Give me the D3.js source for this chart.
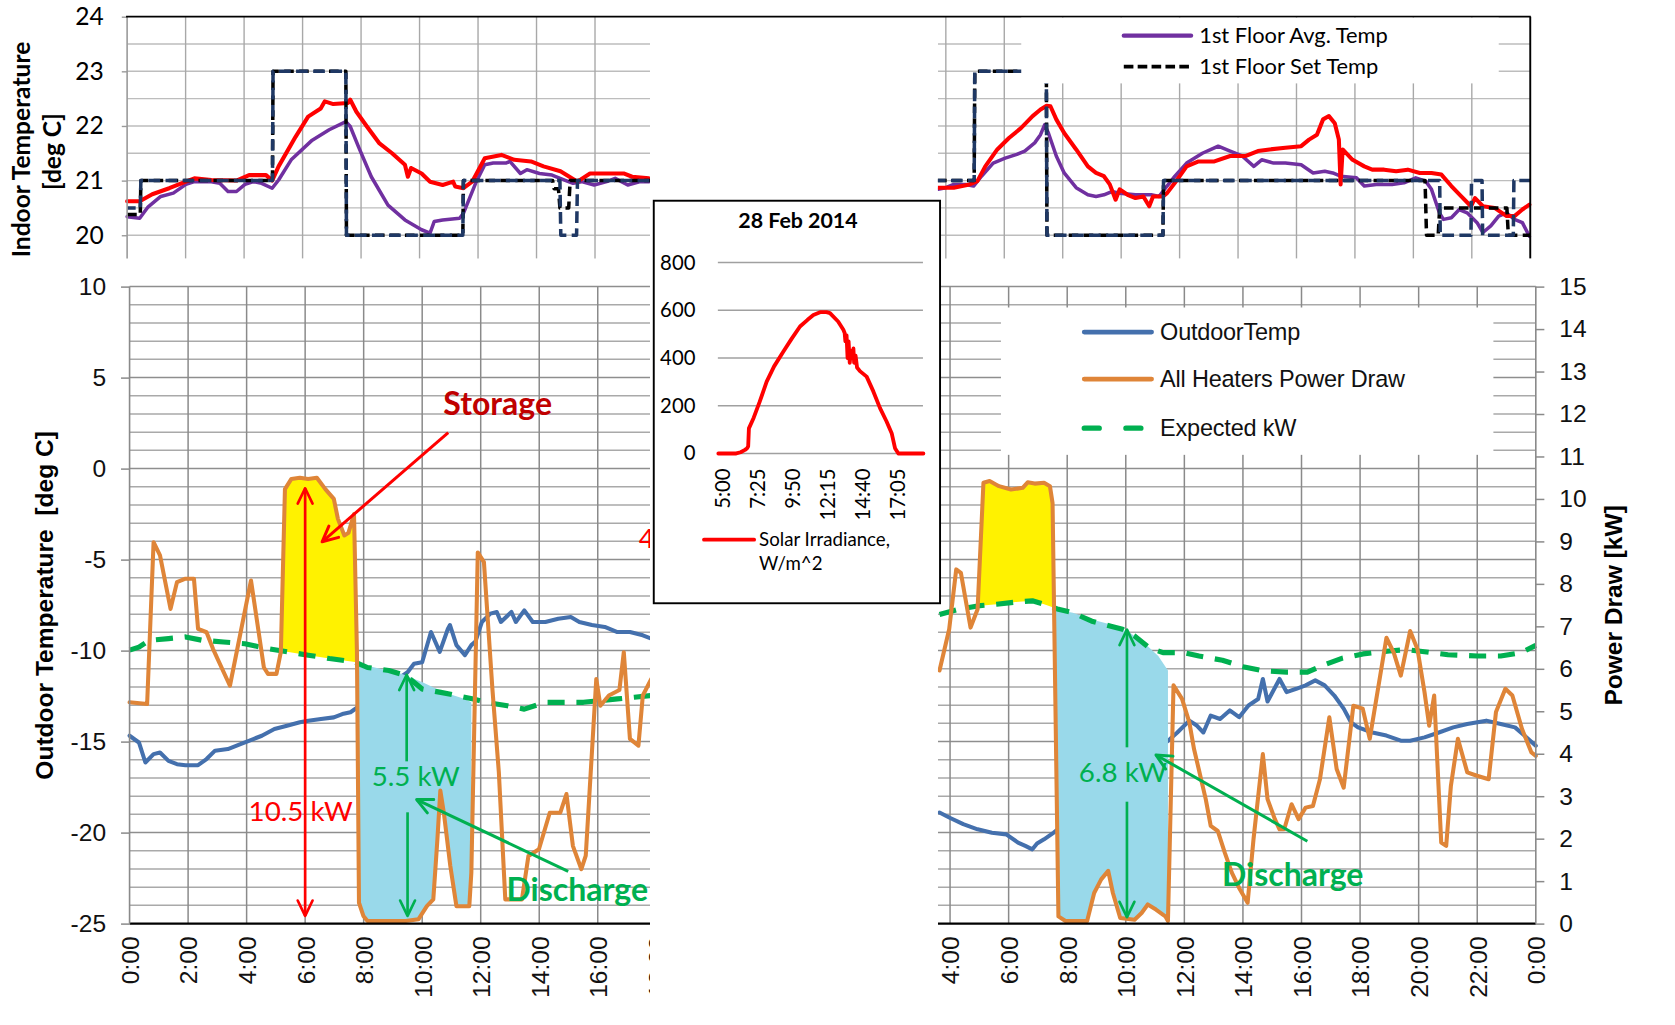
<!DOCTYPE html>
<html><head><meta charset="utf-8">
<script src="https://cdn.jsdelivr.net/npm/d3@7"></script>
<style>html,body{margin:0;padding:0;background:#fff;overflow:hidden}</style>
</head><body>
<svg id="c"></svg>
<script>
// ---------------- DATA (hours, value) ----------------
// Top panel, left day: indoor temperatures (deg C)
const purpleLeft = [[0,20.34],[0.43,20.31],[0.72,20.52],[1.15,20.71],[1.58,20.77],[2.01,20.93],[2.3,20.98],[2.88,20.98],[3.17,20.95],[3.45,20.8],[3.74,20.8],[4.03,20.93],[4.32,20.98],[4.6,20.95],[4.96,20.86],[5.18,21.01],[5.61,21.38],[6.33,21.74],[6.91,21.93],[7.48,22.08],[7.63,21.99],[7.91,21.62],[8.35,21.07],[8.92,20.55],[9.5,20.28],[10.07,20.1],[10.36,20.04],[10.5,20.25],[10.79,20.28],[11.37,20.31],[11.5,20.4],[11.94,20.98],[12.23,21.29],[12.52,21.32],[12.95,21.32],[13.09,21.35],[13.45,21.13],[13.67,21.2],[14.1,21.13],[14.53,21.1],[14.96,21.01],[15.25,20.95],[15.54,20.98],[15.97,20.92],[16.4,20.98],[16.69,21.04],[17.12,20.92],[17.55,20.98],[17.84,20.98],[18.2,21.0]];
const redLeft = [[0,20.62],[0.43,20.62],[0.86,20.75],[1.44,20.86],[2.01,20.98],[2.3,21.04],[2.88,21.01],[3.74,21.0],[4.17,21.1],[4.75,21.1],[4.96,21.0],[5.18,21.26],[5.76,21.8],[6.19,22.17],[6.62,22.32],[6.76,22.45],[7.05,22.4],[7.55,22.42],[7.63,22.48],[7.84,22.26],[8.2,21.99],[8.63,21.68],[9.06,21.5],[9.5,21.29],[9.6,21.07],[9.71,21.23],[10.07,21.13],[10.36,20.98],[10.79,20.92],[11.15,20.98],[11.22,20.89],[11.5,20.86],[11.8,20.98],[12.23,21.41],[12.8,21.47],[13.24,21.38],[13.81,21.35],[14.24,21.26],[14.82,21.17],[15.4,20.98],[15.83,21.13],[16.4,21.13],[16.98,21.13],[17.27,21.07],[17.84,21.04],[18.2,21.0]];
const setNavyLeft = [[0,20.5],[0.45,20.5],[0.47,21],[4.97,21],[4.99,23],[7.48,23],[7.5,20],[11.48,20],[11.5,21],[14.8,21],[14.83,20],[15.37,20],[15.4,21],[18.2,21]];
const setBlackLeft = [[0,20.38],[0.45,20.38],[0.47,21],[4.97,21],[4.99,23],[7.48,23],[7.5,20],[11.48,20],[11.5,21],[14.55,21],[14.6,20.85],[14.75,20.85],[14.8,20.5],[15.1,20.5],[15.15,21],[18.2,21]];
// Top panel, right day
const purpleRight = [[3.73,20.84],[4,20.87],[4.27,20.93],[4.68,20.93],[4.95,20.9],[5.22,21.08],[5.62,21.32],[6.03,21.41],[6.43,21.48],[6.7,21.54],[7.04,21.69],[7.24,21.84],[7.38,22.02],[7.51,21.87],[7.78,21.45],[8.05,21.14],[8.46,20.87],[8.86,20.74],[9.14,20.71],[9.41,20.74],[9.68,20.8],[9.95,20.77],[10.49,20.74],[11.03,20.74],[11.3,20.71],[11.57,20.9],[11.84,21.08],[12.24,21.32],[12.78,21.5],[13.19,21.6],[13.32,21.63],[13.73,21.54],[14.14,21.45],[14.54,21.26],[14.81,21.38],[15.22,21.32],[15.62,21.32],[16.16,21.29],[16.57,21.14],[16.97,21.17],[17.24,21.14],[17.51,21.08],[18.05,21.05],[18.32,20.9],[18.73,20.93],[19.27,20.93],[19.68,20.96],[20.08,21.05],[20.42,20.99],[20.62,20.84],[20.89,20.41],[21.03,20.29],[21.3,20.32],[21.57,20.47],[21.84,20.41],[22.18,20.23],[22.38,20.05],[22.65,20.17],[22.92,20.35],[23.19,20.41],[23.46,20.29],[23.73,20.23],[23.97,19.98]];
const redRight = [[3.73,20.87],[4.27,20.87],[4.81,20.93],[5.08,20.99],[5.35,21.26],[5.76,21.57],[6.16,21.78],[6.57,21.96],[6.97,22.18],[7.24,22.3],[7.45,22.37],[7.58,22.36],[7.78,22.12],[8.05,21.87],[8.46,21.57],[8.86,21.26],[9.14,21.14],[9.41,21.08],[9.61,20.93],[9.81,20.65],[9.95,20.84],[10.22,20.74],[10.49,20.68],[10.76,20.71],[10.96,20.53],[11.09,20.71],[11.43,20.71],[11.57,20.77],[11.84,20.96],[12.24,21.26],[12.65,21.35],[13.19,21.35],[13.73,21.45],[14.27,21.45],[14.68,21.54],[15.08,21.57],[15.62,21.6],[16.16,21.63],[16.43,21.75],[16.7,21.84],[16.91,22.12],[17.11,22.18],[17.31,22.05],[17.45,21.75],[17.51,20.93],[17.58,21.57],[17.92,21.38],[18.32,21.26],[18.59,21.2],[19.0,21.2],[19.41,21.17],[19.81,21.2],[20.22,21.14],[20.62,21.14],[20.96,21.11],[21.3,20.9],[21.64,20.71],[21.97,20.53],[22.11,20.68],[22.38,20.53],[22.78,20.5],[23.19,20.35],[23.46,20.35],[23.73,20.47],[23.97,20.56]];
const setNavyRight = [[3.7,21],[4.97,21],[4.99,23],[7.44,23],[7.46,20],[11.43,20],[11.45,21],[20.9,21],[20.92,20],[21.97,20],[21.99,21],[22.35,21],[22.37,20],[23.42,20],[23.44,21],[24,21]];
const setBlackRight = [[3.7,21],[4.97,21],[4.99,23],[7.44,23],[7.46,20],[11.43,20],[11.45,21],[20.4,21],[20.45,20],[20.85,20],[20.9,20.5],[23.2,20.5],[23.25,20],[24,20]];

// Bottom panel, left day
const powerLeft = [[0,5.21],[0.6,5.17],[0.82,8.98],[1.04,8.67],[1.4,7.41],[1.62,8.04],[1.91,8.12],[2.2,8.12],[2.34,6.94],[2.63,6.86],[2.85,6.47],[3.43,5.6],[4.15,8.08],[4.59,6.03],[4.73,5.88],[5.02,5.88],[5.17,6.4],[5.31,10.23],[5.53,10.47],[5.82,10.5],[6.1,10.47],[6.4,10.5],[6.69,10.23],[6.98,10.0],[7.12,9.53],[7.34,9.14],[7.48,9.2],[7.67,9.64],[7.77,6.4],[7.84,0.49],[7.99,0.18],[8.13,0.06],[8.86,0.06],[9.44,0.06],[9.87,0.1],[10.16,0.41],[10.38,0.57],[10.52,1.98],[10.62,3.13],[10.74,2.61],[10.96,1.36],[11.17,0.41],[11.61,0.41],[11.68,1.2],[11.9,8.74],[12.11,8.51],[12.4,5.52],[12.62,3.56],[12.84,0.57],[13.41,0.57],[13.63,1.59],[13.99,1.75],[14.36,2.61],[14.72,2.61],[14.93,3.05],[15.15,1.83],[15.44,1.28],[15.59,1.6],[15.95,5.76],[16.09,5.13],[16.38,5.37],[16.74,5.5],[16.89,6.39],[17.1,4.35],[17.39,4.19],[17.54,5.37],[17.83,5.76],[18.2,6.2]];
const outdoorLeft = [[0,-14.68],[0.32,-15.05],[0.54,-16.15],[0.82,-15.69],[1.04,-15.6],[1.33,-16.06],[1.62,-16.24],[1.91,-16.3],[2.34,-16.3],[2.63,-15.96],[2.92,-15.5],[3.36,-15.41],[3.79,-15.14],[4.23,-14.86],[4.52,-14.68],[4.95,-14.31],[5.38,-14.13],[5.82,-13.94],[6.11,-13.85],[6.54,-13.76],[6.98,-13.67],[7.27,-13.49],[7.55,-13.39],[9.5,-11.19],[9.72,-10.73],[10.0,-10.64],[10.3,-8.98],[10.6,-10.07],[10.88,-8.8],[10.95,-8.6],[11.17,-9.7],[11.46,-10.25],[11.68,-9.7],[11.82,-9.5],[12.04,-8.43],[12.33,-7.97],[12.55,-7.88],[12.69,-8.43],[13.05,-7.88],[13.2,-8.43],[13.49,-7.79],[13.78,-8.43],[14.21,-8.43],[14.65,-8.25],[15.08,-8.16],[15.37,-8.43],[15.8,-8.6],[16.24,-8.7],[16.67,-8.98],[17.1,-8.98],[17.54,-9.16],[17.83,-9.34],[18.2,-9.45]];
const expectedLeft = [[0,6.44],[0.32,6.51],[0.68,6.67],[1.33,6.71],[1.91,6.75],[2.49,6.67],[3.21,6.63],[3.94,6.59],[4.66,6.48],[5.38,6.4],[6.11,6.32],[6.83,6.24],[7.7,6.16],[8.13,6.03],[8.86,5.96],[9.44,5.84],[10.01,5.52],[10.59,5.45],[11.17,5.37],[11.75,5.29],[12.19,5.21],[12.91,5.13],[13.49,5.05],[14.21,5.21],[14.79,5.21],[15.51,5.21],[16.09,5.25],[16.67,5.29],[17.25,5.33],[17.83,5.37],[18.2,5.4]];
const dischargeTopLeft = [[7.8,6.12],[8.57,6.0],[9.29,5.88],[10.01,5.68],[10.74,5.45],[11.46,5.29],[11.68,5.21]];
// Bottom panel, right day
const powerRight = [[3.64,5.96],[3.97,6.93],[4.21,8.34],[4.37,8.26],[4.7,6.97],[4.94,7.4],[5.14,10.38],[5.35,10.42],[5.67,10.3],[6.08,10.22],[6.48,10.26],[6.65,10.39],[6.89,10.36],[7.21,10.38],[7.41,10.3],[7.5,9.9],[7.7,0.17],[7.94,0.06],[8.68,0.06],[8.92,0.72],[9.16,1.04],[9.4,1.24],[9.56,0.72],[9.81,0.13],[10.3,0.09],[10.54,0.25],[10.75,0.45],[11.03,0.33],[11.35,0.17],[11.44,0.06],[11.63,5.61],[11.92,5.29],[12.17,4.74],[12.33,4.11],[12.49,3.64],[12.73,2.93],[12.9,2.3],[13.14,2.18],[13.38,1.67],[13.62,1.2],[13.87,0.84],[14.16,0.49],[14.36,1.98],[14.68,3.99],[14.84,2.93],[15.09,2.46],[15.25,2.22],[15.41,2.22],[15.66,2.81],[15.9,2.46],[16.14,2.73],[16.39,2.77],[16.63,3.4],[16.95,4.86],[17.2,3.64],[17.44,3.2],[17.77,5.13],[18.09,5.06],[18.33,4.35],[18.9,6.73],[19.15,6.38],[19.39,5.84],[19.71,6.89],[19.96,6.46],[20.2,5.45],[20.36,4.66],[20.53,5.37],[20.77,1.91],[20.94,1.83],[21.1,3.24],[21.34,4.35],[21.66,3.56],[21.99,3.48],[22.39,3.4],[22.64,4.98],[22.96,5.53],[23.2,5.37],[23.53,4.58],[23.85,4.03],[24,3.95]];
const outdoorRight = [[3.64,-18.9],[3.97,-19.17],[4.45,-19.54],[4.94,-19.82],[5.43,-20.01],[5.92,-20.1],[6.32,-20.55],[6.57,-20.73],[6.81,-20.92],[6.97,-20.6],[7.21,-20.37],[7.54,-20.0],[11.52,-14.85],[11.76,-14.5],[12.17,-13.85],[12.41,-14.1],[12.65,-14.5],[12.9,-13.57],[13.22,-13.76],[13.55,-13.29],[13.87,-13.66],[14.19,-13.02],[14.52,-12.66],[14.68,-11.56],[14.84,-12.8],[15.25,-11.56],[15.49,-12.28],[15.82,-12.1],[16.14,-11.91],[16.47,-11.64],[16.79,-11.91],[17.12,-12.47],[17.44,-13.19],[17.69,-13.94],[17.93,-14.22],[18.42,-14.5],[18.9,-14.67],[19.39,-14.95],[19.71,-14.95],[20.2,-14.77],[20.69,-14.5],[21.18,-14.22],[21.66,-14.03],[22.31,-13.85],[22.8,-14.03],[23.29,-14.22],[23.61,-14.67],[24,-15.23]];
const expectedRight = [[3.64,7.28],[4.29,7.4],[4.94,7.48],[5.59,7.52],[6.24,7.57],[6.81,7.6],[7.21,7.52],[7.7,7.4],[8.19,7.32],[8.84,7.12],[9.49,7.0],[9.89,6.93],[10.3,6.77],[10.79,6.5],[11.27,6.38],[12.0,6.38],[12.5,6.3],[13.3,6.2],[14.0,6.05],[14.7,5.95],[15.5,5.92],[16.2,5.92],[16.8,6.1],[17.4,6.25],[18.1,6.35],[19.0,6.42],[19.6,6.45],[20.2,6.4],[21.0,6.33],[22.0,6.3],[22.8,6.3],[23.5,6.38],[24,6.55]];
const dischargeTopRight = [[7.57,7.4],[8.19,7.32],[8.84,7.16],[9.49,7.04],[10.14,6.85],[10.62,6.61],[11.11,6.3],[11.44,5.96]];

// Inset: solar irradiance 28 Feb 2014 (hours, W/m^2)
const solar = [[4.77,0],[6.0,0],[6.3,5],[6.6,15],[6.75,22],[6.82,30],[6.87,105],[7.2,150],[7.6,215],[8.09,301],[8.6,365],[9.24,427],[9.8,480],[10.38,532],[10.9,560],[11.3,580],[11.76,592],[12.2,592],[12.44,588],[13.0,553],[13.36,518],[13.45,505],[13.5,470],[13.58,495],[13.65,400],[13.72,470],[13.8,380],[13.88,430],[13.95,400],[14.05,440],[14.1,380],[14.2,410],[14.3,360],[14.5,345],[14.96,322],[15.42,260],[15.88,190],[16.33,134],[16.68,85],[16.91,22],[17.14,0],[18.86,0]];

// Tick values / labels
const topTempTicks = [20,21,22,23,24];
const outdoorTicks = [-25,-20,-15,-10,-5,0,5,10];
const powerTicks = d3.range(0,16);
const hourTicksLeft = [0,2,4,6,8,10,12,14,16,18];
const hourTicksRight = [4,6,8,10,12,14,16,18,20,22,24];
const solarTicks = [0,200,400,600,800];
const solarHourTicks = [5, 7+25/60, 9+50/60, 12.25, 14+40/60, 17+5/60];
const solarHourLabels = ["5:00","7:25","9:50","12:15","14:40","17:05"];

// ---------------- DRAWING ----------------
const LATO = "Lato, 'Open Sans', sans-serif";
const ARIAL = "'Liberation Sans', Arial, sans-serif";
const C = {orange:"#DF8538", blue:"#4470AD", green:"#00B050", yellow:"#FFF200", lblue:"#99D9EA",
           purple:"#7030A0", red:"#FF0000", navy:"#1F3864", dred:"#C00000"};

const svg = d3.select('#c').attr('width',1675).attr('height',1025)
  .attr('viewBox','0 0 1568 960').attr('preserveAspectRatio','none');
svg.append('rect').attr('width',1568).attr('height',960).attr('fill','#fff');
const defs = svg.append('defs');
defs.append('clipPath').attr('id','clipL').append('rect').attr('x',0).attr('y',0).attr('width',608.5).attr('height',960);
defs.append('clipPath').attr('id','clipR').append('rect').attr('x',878).attr('y',0).attr('width',700).attr('height',960);

// Scales
const xTopL = d3.scaleLinear().domain([0,24]).range([119,776]);
const xTopR = d3.scaleLinear().domain([0,24]).range([776,1432.5]);
const yTop = d3.scaleLinear().domain([20,24]).range([220.3,15.6]);
const TOP_BOTTOM = 242;
const xBotL = d3.scaleLinear().domain([0,24]).range([121.3,778.7]);
const xBotR = d3.scaleLinear().domain([0,24]).range([779.7,1437.7]);
const yDeg = d3.scaleLinear().domain([-25,10]).range([865,268.4]);
const yKW = d3.scaleLinear().domain([0,15]).range([865,268.4]);
const xIn = d3.scaleLinear().domain([5,17+5/60]).range([675.6,840.2]);
const yIn = d3.scaleLinear().domain([0,800]).range([424.7,245.9]);

function interp(arr,t){
  for(let i=0;i<arr.length-1;i++){
    if(t>=arr[i][0] && t<=arr[i+1][0]){
      const f=(t-arr[i][0])/(arr[i+1][0]-arr[i][0]);
      return arr[i][1]+f*(arr[i+1][1]-arr[i][1]);
    }
  }
  return arr[arr.length-1][1];
}
function band(topArr, botArr, t0, t1){
  const top=[[t0,interp(topArr,t0)], ...topArr.filter(d=>d[0]>t0&&d[0]<t1), [t1,interp(topArr,t1)]];
  const bot=[[t0,interp(botArr,t0)], ...botArr.filter(d=>d[0]>t0&&d[0]<t1), [t1,interp(botArr,t1)]].reverse();
  return top.concat(bot);
}
function path(g, data, xs, ys, stroke, width, dash, extra){
  const p = g.append('path').attr('d', d3.line().x(d=>xs(d[0])).y(d=>ys(d[1]))(data))
    .attr('fill','none').attr('stroke',stroke).attr('stroke-width',width)
    .attr('stroke-linejoin','round').attr('stroke-linecap', dash? 'butt':'round');
  if(dash) p.attr('stroke-dasharray',dash);
  if(extra) extra(p);
  return p;
}

// ===== TOP PANEL =====
function topHalf(clip, xs, x0, x1, vHours, purple, red, setB, setN){
  const g = svg.append('g').attr('clip-path',`url(#${clip})`);
  d3.range(20,24,0.5).forEach(v=>{
    g.append('line').attr('x1',x0).attr('x2',x1).attr('y1',yTop(v)).attr('y2',yTop(v))
      .attr('stroke','#bdbdbd').attr('stroke-width',1.3);
  });
  vHours.forEach(h=>{
    g.append('line').attr('x1',xs(h)).attr('x2',xs(h)).attr('y1',yTop(24)).attr('y2',TOP_BOTTOM)
      .attr('stroke','#a8a8a8').attr('stroke-width',1.3);
  });
  path(g, purple, xs, yTop, C.purple, 3.3);
  path(g, red, xs, yTop, C.red, 3.8);
  path(g, setB, xs, yTop, '#000', 3.3, '9 5');
  path(g, setN, xs, yTop, C.navy, 3.3, '11 5', p=>p.attr('stroke-dashoffset',3));
  return g;
}
topHalf('clipL', xTopL, 119, 608.5, [2,4,6,8,10,12,14,16,18], purpleLeft, redLeft, setBlackLeft, setNavyLeft);
topHalf('clipR', xTopR, 878, 1432.5, [4,6,8,10,12,14,16,18,20,22], purpleRight, redRight, setBlackRight, setNavyRight);
// left axis of top panel
svg.append('line').attr('x1',119).attr('x2',119).attr('y1',15.6).attr('y2',TOP_BOTTOM).attr('stroke','#9a9a9a').attr('stroke-width',1.5);
const topAx = svg.append('g').attr('transform','translate(119,0)')
  .call(d3.axisLeft(yTop).tickValues(topTempTicks).tickSize(5).tickPadding(17).tickFormat(d=>String(d)));
topAx.select('.domain').remove();
topAx.selectAll('line').attr('stroke','#9a9a9a').attr('stroke-width',1.3);
topAx.selectAll('text').attr('font-family',LATO).attr('font-size',23).attr('fill','#000');
// top & right border
svg.append('line').attr('x1',118).attr('x2',1433).attr('y1',15.6).attr('y2',15.6).attr('stroke','#000').attr('stroke-width',1.8);
svg.append('line').attr('x1',1432.5).attr('x2',1432.5).attr('y1',15.6).attr('y2',TOP_BOTTOM).attr('stroke','#000').attr('stroke-width',1.8);
// top legend
svg.append('rect').attr('x',956).attr('y',16.6).attr('width',447).attr('height',61.5).attr('fill','#fff');
svg.append('line').attr('x1',1052).attr('x2',1115).attr('y1',33.4).attr('y2',33.4).attr('stroke',C.purple).attr('stroke-width',4).attr('stroke-linecap','round');
svg.append('line').attr('x1',1052).attr('x2',1115).attr('y1',62.4).attr('y2',62.4).attr('stroke','#000').attr('stroke-width',3.5).attr('stroke-dasharray','9 4');
svg.append('text').attr('x',1122.6).attr('y',33.4).attr('dy','0.35em').attr('font-family',LATO).attr('font-size',20.5).text('1st Floor Avg. Temp');
svg.append('text').attr('x',1122.6).attr('y',62.4).attr('dy','0.35em').attr('font-family',LATO).attr('font-size',20.5).text('1st Floor Set Temp');
// top y title
svg.append('text').attr('transform','translate(20,140) rotate(-90)').attr('text-anchor','middle').attr('dy','0.35em')
  .attr('font-family',LATO).attr('font-weight','bold').attr('font-size',23).text('Indoor Temperature');
svg.append('text').attr('transform','translate(49,142) rotate(-90)').attr('text-anchor','middle').attr('dy','0.35em')
  .attr('font-family',LATO).attr('font-weight','bold').attr('font-size',23).text('[deg C]');

// ===== BOTTOM PANEL =====
function bottomHalf(clip, xs, x0, x1, vHours, power, outdoor, expected, storage, discharge, dischargeTop){
  const g = svg.append('g').attr('clip-path',`url(#${clip})`);
  d3.range(-25,11,1).forEach(v=>{
    if(v===-25) return;
    g.append('line').attr('x1',x0).attr('x2',x1).attr('y1',yDeg(v)).attr('y2',yDeg(v))
      .attr('stroke', v%5===0 ? '#8e8e8e' : '#a9a9a9').attr('stroke-width',1.4);
  });
  vHours.forEach(h=>{
    g.append('line').attr('x1',xs(h)).attr('x2',xs(h)).attr('y1',yDeg(10)).attr('y2',yDeg(-25))
      .attr('stroke','#8a8a8a').attr('stroke-width',1.4);
  });
  path(g, outdoor, xs, yDeg, C.blue, 3.8);
  const poly = d3.line().x(d=>xs(d[0])).y(d=>yKW(d[1]));
  g.append('path').attr('d', poly(band(power, expected, storage[0], storage[1]))+'Z').attr('fill',C.yellow);
  g.append('path').attr('d', poly(band(dischargeTop, power, discharge[0], discharge[1]))+'Z').attr('fill',C.lblue);
  path(g, expected, xs, yKW, C.green, 4.8, '16 11');
  path(g, power, xs, yKW, C.orange, 3.8);
  g.append('line').attr('x1',x0).attr('x2',x1).attr('y1',yDeg(-25)).attr('y2',yDeg(-25)).attr('stroke','#000').attr('stroke-width',2);
  return g;
}
bottomHalf('clipL', xBotL, 121.3, 608.5, [2,4,6,8,10,12,14,16,18], powerLeft, outdoorLeft, expectedLeft, [5.17,7.77], [7.8,11.68], dischargeTopLeft);
bottomHalf('clipR', xBotR, 878, 1437.7, [4,6,8,10,12,14,16,18,20,22], powerRight, outdoorRight, expectedRight, [4.94,7.55], [7.57,11.44], dischargeTopRight);

// axes bottom
svg.append('line').attr('x1',121.3).attr('x2',121.3).attr('y1',268.4).attr('y2',865).attr('stroke','#8a8a8a').attr('stroke-width',1.5);
svg.append('line').attr('x1',1437.7).attr('x2',1437.7).attr('y1',268.4).attr('y2',865).attr('stroke','#8a8a8a').attr('stroke-width',1.5);
const axL = svg.append('g').attr('transform','translate(121.3,0)')
  .call(d3.axisLeft(yDeg).tickValues(outdoorTicks).tickSize(8).tickPadding(14).tickFormat(d=>String(d)));
const axR = svg.append('g').attr('transform','translate(1437.7,0)')
  .call(d3.axisRight(yKW).tickValues(powerTicks).tickSize(8).tickPadding(14).tickFormat(d=>String(d)));
[axL,axR].forEach(a=>{
  a.select('.domain').remove();
  a.selectAll('line').attr('stroke','#8a8a8a').attr('stroke-width',1.4);
  a.selectAll('text').attr('font-family',ARIAL).attr('font-size',23).attr('fill','#111');
});
function hourAxis(clip, xs, ticks){
  const a = svg.append('g').attr('clip-path',`url(#${clip})`).append('g').attr('transform','translate(0,865)')
    .call(d3.axisBottom(xs).tickValues(ticks).tickSize(0).tickFormat(h=>(h%24)+':00'));
  a.select('.domain').remove();
  a.selectAll('text').attr('transform','rotate(-90)').attr('text-anchor','end').attr('x',-12).attr('y',0).attr('dy','0.36em')
    .attr('font-family',ARIAL).attr('font-size',23).attr('fill','#111');
}
hourAxis('clipL', xBotL, hourTicksLeft);
hourAxis('clipR', xBotR, hourTicksRight);
svg.append('text').attr('transform','translate(42,567) rotate(-90)').attr('text-anchor','middle').attr('dy','0.35em')
  .attr('font-family',ARIAL).attr('font-weight','bold').attr('font-size',23).attr('xml:space','preserve').text('Outdoor Temperature  [deg C]');
svg.append('text').attr('transform','translate(1510,567) rotate(-90)').attr('text-anchor','middle').attr('dy','0.35em')
  .attr('font-family',ARIAL).attr('font-weight','bold').attr('font-size',23).text('Power Draw [kW]');

// bottom legend
svg.append('rect').attr('x',937).attr('y',288).attr('width',461).attr('height',138).attr('fill','#fff');
[[311,C.blue,null,'OutdoorTemp'],[355,C.orange,null,'All Heaters Power Draw'],[401,C.green,'20 19','Expected kW']].forEach(([y,col,dash,label])=>{
  const l = svg.append('line').attr('x1',1015).attr('x2',1078).attr('y1',y).attr('y2',y).attr('stroke',col)
    .attr('stroke-width',4.5).attr('stroke-linecap','round');
  if(dash) l.attr('stroke-dasharray','14 25').attr('stroke-width',5);
  svg.append('text').attr('x',1086).attr('y',y).attr('dy','0.35em').attr('font-family',ARIAL).attr('font-size',22)
    .attr('letter-spacing','-0.2').attr('fill','#111').text(label);
});

// ===== ANNOTATIONS =====
function arrowHead(g, x, y, ang, col, w){
  const L=16, a=0.45;
  const p1=[x - L*Math.cos(ang-a), y - L*Math.sin(ang-a)];
  const p2=[x - L*Math.cos(ang+a), y - L*Math.sin(ang+a)];
  g.append('path').attr('d',`M${p1}L${x},${y}L${p2}`).attr('fill','none').attr('stroke',col).attr('stroke-width',w).attr('stroke-linecap','round').attr('stroke-linejoin','round');
}
function arrow(g, x1,y1,x2,y2,col,w,both){
  g.append('line').attr('x1',x1).attr('y1',y1).attr('x2',x2).attr('y2',y2).attr('stroke',col).attr('stroke-width',w);
  arrowHead(g,x2,y2,Math.atan2(y2-y1,x2-x1),col,w);
  if(both) arrowHead(g,x1,y1,Math.atan2(y1-y2,x1-x2),col,w);
}
const aL = svg.append('g').attr('clip-path','url(#clipL)');
// Storage
arrow(aL, xBotL(10.89), yKW(11.56), xBotL(6.58), yKW(8.99), C.red, 2.8);
aL.append('text').attr('x',xBotL(12.58)).attr('y',yKW(12.23)).attr('dy','0.35em').attr('text-anchor','middle')
  .attr('font-family',LATO).attr('font-weight','bold').attr('font-size',30).attr('fill',C.dred).text('Storage');
arrow(aL, xBotL(6.0), yKW(0.18), xBotL(6.0), yKW(10.25), C.red, 2.5, true);
aL.append('text').attr('x',xBotL(5.85)).attr('y',yKW(2.64)).attr('dy','0.35em').attr('text-anchor','middle')
  .attr('font-family',LATO).attr('font-size',26).attr('fill',C.red).text('10.5 kW');
aL.append('text').attr('x',xBotL(17.4)).attr('y',yKW(9.07)).attr('dy','0.35em')
  .attr('font-family',LATO).attr('font-size',25).attr('fill',C.red).text('4');
// 5.5 kW
arrowHead(aL, xBotL(9.47), yKW(5.86), -Math.PI/2, C.green, 2.5);
aL.append('line').attr('x1',xBotL(9.47)).attr('x2',xBotL(9.47)).attr('y1',yKW(5.86)).attr('y2',yKW(3.82)).attr('stroke',C.green).attr('stroke-width',2.5);
aL.append('line').attr('x1',xBotL(9.5)).attr('x2',xBotL(9.5)).attr('y1',yKW(2.62)).attr('y2',yKW(0.18)).attr('stroke',C.green).attr('stroke-width',2.5);
arrowHead(aL, xBotL(9.5), yKW(0.18), Math.PI/2, C.green, 2.5);
aL.append('text').attr('x',xBotL(9.78)).attr('y',yKW(3.47)).attr('dy','0.35em').attr('text-anchor','middle')
  .attr('font-family',LATO).attr('font-size',26).attr('fill',C.green).text('5.5 kW');
arrow(aL, xBotL(14.99), yKW(1.23), xBotL(9.81), yKW(2.92), C.green, 2.8);
aL.append('text').attr('x',xBotL(15.3)).attr('y',yKW(0.8)).attr('dy','0.35em').attr('text-anchor','middle')
  .attr('font-family',LATO).attr('font-weight','bold').attr('font-size',30).attr('fill',C.green).text('Discharge');

const aR = svg.append('g').attr('clip-path','url(#clipR)');
arrowHead(aR, xBotR(10.04), yKW(6.92), -Math.PI/2, C.green, 2.5);
aR.append('line').attr('x1',xBotR(10.04)).attr('x2',xBotR(10.04)).attr('y1',yKW(6.92)).attr('y2',yKW(4.15)).attr('stroke',C.green).attr('stroke-width',2.5);
aR.append('line').attr('x1',xBotR(10.04)).attr('x2',xBotR(10.04)).attr('y1',yKW(2.87)).attr('y2',yKW(0.15)).attr('stroke',C.green).attr('stroke-width',2.5);
arrowHead(aR, xBotR(10.04), yKW(0.15), Math.PI/2, C.green, 2.5);
aR.append('text').attr('x',xBotR(9.9)).attr('y',yKW(3.57)).attr('dy','0.35em').attr('text-anchor','middle')
  .attr('font-family',LATO).attr('font-size',26).attr('fill',C.green).text('6.8 kW');
arrow(aR, xBotR(16.2), yKW(1.94), xBotR(11.03), yKW(3.97), C.green, 2.8);
aR.append('text').attr('x',xBotR(15.7)).attr('y',yKW(1.16)).attr('dy','0.35em').attr('text-anchor','middle')
  .attr('font-family',LATO).attr('font-weight','bold').attr('font-size',30).attr('fill',C.green).text('Discharge');

// ===== INSET =====
const gi = svg.append('g');
gi.append('rect').attr('x',612).attr('y',188).attr('width',268).attr('height',377).attr('fill','#fff').attr('stroke','#000').attr('stroke-width',1.8);
gi.append('text').attr('x',747).attr('y',207).attr('dy','0.35em').attr('text-anchor','middle')
  .attr('font-family',LATO).attr('font-weight','bold').attr('font-size',20).text('28 Feb 2014');
solarTicks.forEach(v=>{
  gi.append('line').attr('x1',672).attr('x2',864).attr('y1',yIn(v)).attr('y2',yIn(v)).attr('stroke','#a0a0a0').attr('stroke-width',1.3);
});
const iy = gi.append('g').attr('transform','translate(672,0)')
  .call(d3.axisLeft(yIn).tickValues(solarTicks).tickSize(0).tickPadding(21));
iy.select('.domain').remove();
iy.selectAll('text').attr('font-family',LATO).attr('font-size',19).attr('fill','#000');
const ix = gi.append('g').attr('transform',`translate(0,${yIn(0)})`)
  .call(d3.axisBottom(xIn).tickValues(solarHourTicks).tickSize(0).tickFormat((d,i)=>solarHourLabels[i]));
ix.select('.domain').remove();
ix.selectAll('text').attr('transform','rotate(-90)').attr('text-anchor','end').attr('x',-14).attr('y',0).attr('dy','0.36em')
  .attr('font-family',LATO).attr('font-size',19).attr('fill','#000');
path(gi, solar, xIn, yIn, C.red, 3.6);
gi.append('line').attr('x1',659).attr('x2',706).attr('y1',505.5).attr('y2',505.5).attr('stroke',C.red).attr('stroke-width',3.5).attr('stroke-linecap','round');
gi.append('text').attr('x',710.6).attr('y',505.5).attr('dy','0.35em').attr('font-family',LATO).attr('font-size',17.5).text('Solar Irradiance,');
gi.append('text').attr('x',710.6).attr('y',528).attr('dy','0.35em').attr('font-family',LATO).attr('font-size',17.5).text('W/m^2');
</script>
</body></html>
